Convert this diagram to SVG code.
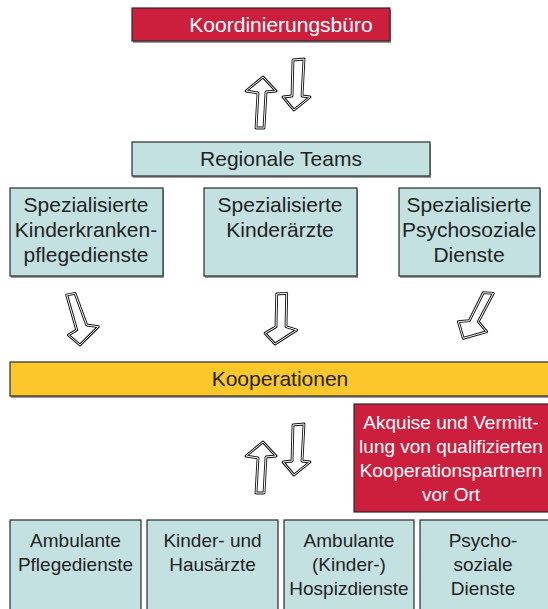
<svg xmlns="http://www.w3.org/2000/svg" width="548" height="609" viewBox="0 0 548 609">
<style>
.box{stroke:#2a2a2a;stroke-width:1.2}
.red{fill:#cc1f3e}
.teal{fill:#c3e1e0}
.yel{fill:#fcc72b}
.sh{fill:#9a9a9a}
text{font-family:"Liberation Sans",Arial,sans-serif;font-size:21px;text-anchor:middle;fill:#232323}
.w{fill:#ffffff}
.s{font-size:19px}
.ao{fill:#fff;stroke:#111;stroke-width:2.8;stroke-linejoin:round}
.ai{fill:none;stroke:#fff;stroke-width:1;stroke-linejoin:round}
</style>
<defs>
<g id="pair">
<path id="up" d="M256,128 L258,93 L246,91 L263,77 L276,91 L266,92 L264,128 Z"/>
<path id="dn" d="M293,60 L304,59 L302,96 L310,97 L294,110 L283,97 L292,96 Z"/>
</g>
</defs>
<g id="connectors">
<g>
<use href="#up" class="ao"/><use href="#up" class="ai"/>
<use href="#dn" class="ao"/><use href="#dn" class="ai"/>
</g>
<g transform="translate(0,365)">
<use href="#up" class="ao"/><use href="#up" class="ai"/>
<use href="#dn" class="ao"/><use href="#dn" class="ai"/>
</g>
<path class="ao" d="M66.7,295 L75,293.3 L86.7,325 L98.3,326.7 L80,345 L68.3,335 L76.7,330 Z"/>
<path class="ai" d="M66.7,295 L75,293.3 L86.7,325 L98.3,326.7 L80,345 L68.3,335 L76.7,330 Z"/>
<path class="ao" d="M276.7,294 L286.7,293.3 L286,326.7 L296.7,330 L275,344 L265,333.3 L276,326.7 Z"/>
<path class="ai" d="M276.7,294 L286.7,293.3 L286,326.7 L296.7,330 L275,344 L265,333.3 L276,326.7 Z"/>
<path class="ao" d="M483.3,292.7 L493.3,293.3 L478.3,321.7 L486.7,331.7 L463.3,338.3 L458.3,321.7 L469.3,320.7 Z"/>
<path class="ai" d="M483.3,292.7 L493.3,293.3 L478.3,321.7 L486.7,331.7 L463.3,338.3 L458.3,321.7 L469.3,320.7 Z"/>
</g>
<g id="koordinierungsbuero">
<rect class="sh" x="133" y="10" width="258" height="33"/>
<rect class="box red" x="132" y="8" width="258" height="33"/>
<text class="w" x="281" y="32">Koordinierungsbüro</text>
</g>
<g id="regionale-teams">
<rect class="sh" x="133" y="144" width="298" height="34"/>
<rect class="box teal" x="132" y="142" width="298" height="34"/>
<text x="281" y="166">Regionale Teams</text>
</g>
<g id="kinderkrankenpflegedienste">
<rect class="sh" x="11" y="190" width="153" height="88"/>
<rect class="box teal" x="10" y="188" width="153" height="88"/>
<text x="86" y="212">Spezialisierte</text>
<text x="86" y="237">Kinderkranken-</text>
<text x="86" y="262">pflegedienste</text>
</g>
<g id="kinderaerzte">
<rect class="sh" x="205" y="190" width="153" height="88"/>
<rect class="box teal" x="204" y="188" width="153" height="88"/>
<text x="280" y="212">Spezialisierte</text>
<text x="280" y="237">Kinderärzte</text>
</g>
<g id="psychosoziale-dienste">
<rect class="sh" x="400" y="190" width="141" height="88"/>
<rect class="box teal" x="399" y="188" width="141" height="88"/>
<text x="469" y="212">Spezialisierte</text>
<text x="469" y="237">Psychosoziale</text>
<text x="469" y="262">Dienste</text>
</g>
<g id="kooperationen">
<rect class="sh" x="11" y="364" width="540" height="34"/>
<rect class="box yel" x="10" y="362" width="540" height="34"/>
<text x="280" y="386">Kooperationen</text>
</g>
<g id="akquise">
<rect class="box red" x="354" y="404" width="196" height="108"/>
<text class="w s" x="451" y="429">Akquise und Vermitt-</text>
<text class="w s" x="451" y="453">lung von qualifizierten</text>
<text class="w s" x="451" y="477">Kooperationspartnern</text>
<text class="w s" x="451" y="501">vor Ort</text>
</g>
<g id="ambulante-pflegedienste">
<rect class="box teal" x="10" y="520" width="131" height="95"/>
<text class="s" x="75.5" y="547">Ambulante</text>
<text class="s" x="75.5" y="571">Pflegedienste</text>
</g>
<g id="kinder-hausaerzte">
<rect class="box teal" x="147" y="520" width="131" height="95"/>
<text class="s" x="212.5" y="547">Kinder- und</text>
<text class="s" x="212.5" y="571">Hausärzte</text>
</g>
<g id="hospizdienste">
<rect class="box teal" x="284" y="520" width="130" height="95"/>
<text class="s" x="349" y="547">Ambulante</text>
<text class="s" x="349" y="571">(Kinder-)</text>
<text class="s" x="349" y="595">Hospizdienste</text>
</g>
<g id="psychosoziale-dienste-2">
<rect class="box teal" x="420" y="520" width="135" height="95"/>
<text class="s" x="483" y="547">Psycho-</text>
<text class="s" x="483" y="571">soziale</text>
<text class="s" x="483" y="595">Dienste</text>
</g>
</svg>
